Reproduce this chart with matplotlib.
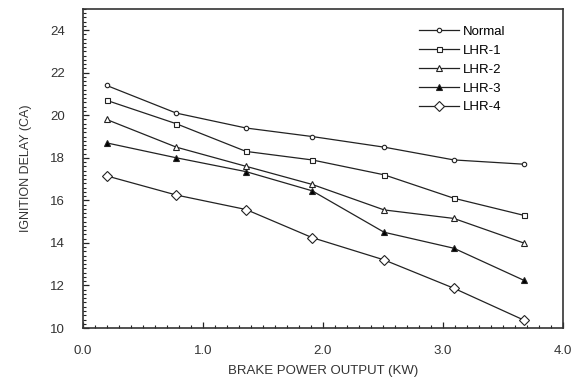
import matplotlib
matplotlib.use("Agg")
import matplotlib.pyplot as plt
from matplotlib.ticker import MultipleLocator, FormatStrFormatter

plt.rcParams["font.family"] = ["Liberation Sans", "DejaVu Sans"]

# Brake power output (kW) and ignition delay (deg CA)
bp = [0.20, 0.78, 1.36, 1.91, 2.51, 3.09, 3.67]
normal = [21.4, 20.1, 19.4, 19.0, 18.5, 17.9, 17.7]
lhr1 = [20.7, 19.6, 18.3, 17.9, 17.2, 16.1, 15.3]
lhr2 = [19.8, 18.5, 17.6, 16.75, 15.55, 15.15, 14.0]
lhr3 = [18.7, 18.0, 17.35, 16.45, 14.5, 13.75, 12.25]
lhr4 = [17.15, 16.25, 15.57, 14.25, 13.2, 11.87, 10.38]

series = [
    ("Normal", normal, dict(marker="o", ms=3.2, mfc="white")),
    ("LHR-1", lhr1, dict(marker="s", ms=3.6, mfc="white")),
    ("LHR-2", lhr2, dict(marker="^", ms=4.5, mfc="white")),
    ("LHR-3", lhr3, dict(marker="^", ms=4.5, mfc="black")),
    ("LHR-4", lhr4, dict(marker="D", ms=5.5, mfc="white")),
]

fig = plt.figure(figsize=(5.86, 3.85), dpi=100)
ax = fig.add_axes([0.141, 0.148, 0.820, 0.829])

for name, vals, style in series:
    ax.plot(bp, vals, color="#222222", linewidth=0.9, mec="#222222",
            mew=0.8, label=name, **style)

ax.set_xlim(0, 4.0)
ax.set_ylim(10, 25)
ax.set_xticks([0, 1, 2, 3, 4])
ax.set_yticks(range(10, 25, 2))
ax.xaxis.set_minor_locator(MultipleLocator(0.1))
ax.yaxis.set_minor_locator(MultipleLocator(0.2))
ax.xaxis.set_major_formatter(FormatStrFormatter("%.1f"))

ax.tick_params(which="both", direction="in", colors="#222222",
               labelcolor="#333333", labelsize=9.5)
ax.tick_params(which="major", length=4, width=0.9)
ax.tick_params(which="minor", length=2.5, width=0.8)
ax.tick_params(axis="x", which="both", pad=12)
ax.tick_params(axis="y", which="both", pad=13)

for sp in ax.spines.values():
    sp.set_linewidth(1.2)
    sp.set_color("#333333")

ax.set_xlabel("BRAKE POWER OUTPUT (KW)", fontsize=9.5, color="#333333",
              labelpad=6)
ax.set_ylabel("IGNITION DELAY (CA)", fontsize=9, color="#333333",
              labelpad=13)

ax.legend(loc="upper left", bbox_to_anchor=(0.70, 0.947), frameon=False,
          fontsize=9.5, handlelength=3.0, handletextpad=0.3,
          labelspacing=0.5, borderpad=0, borderaxespad=0)

fig.savefig("out.png", dpi=100)
